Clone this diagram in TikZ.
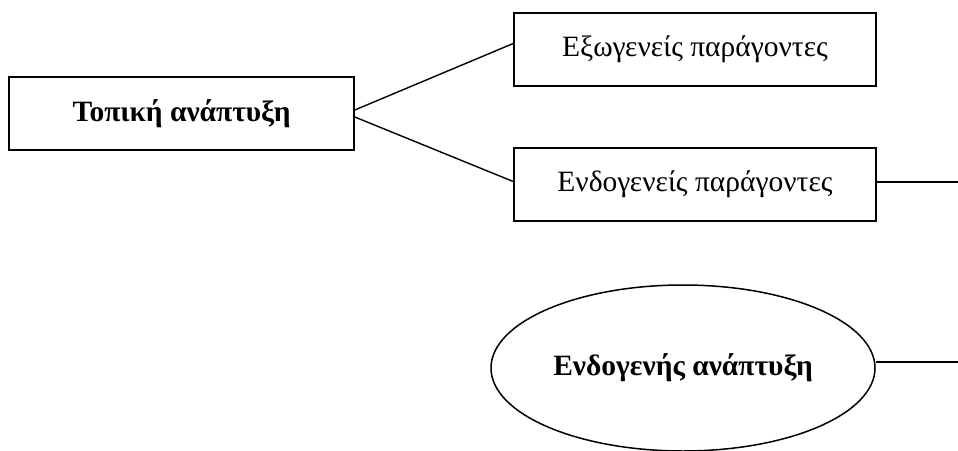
\documentclass[tikz,border=0pt]{standalone}
\usepackage{fontspec}
\setmainfont{Liberation Serif}
\usetikzlibrary{shapes.geometric,calc}
\begin{document}
\begin{tikzpicture}[x=1pt,y=-1pt,
  conn/.style={line width=1.4pt},
  txt/.style={font=\fontsize{29.5}{34}\selectfont},
  boxnode/.style={draw,line width=1.6pt,rectangle,minimum width=345pt,minimum height=73pt,inner sep=0pt,txt},
  ellnode/.style={draw,line width=1.5pt,ellipse,minimum width=384pt,minimum height=166pt,inner sep=0pt,txt}]
\useasboundingbox (0,0) rectangle (958,450);
\node[boxnode] (b1) at (181.5,113.5) {\bfseries Τοπική ανάπτυξη};
\node[boxnode,minimum width=362pt] (b2) at (695,49.5) {Εξωγενείς παράγοντες};
\node[boxnode,minimum width=362pt] (b3) at (695,184.5) {Ενδογενείς παράγοντες};
\node[ellnode] (e) at (683,368) {\raisebox{6pt}{\bfseries Ενδογενής ανάπτυξη}};
\coordinate (r1) at (958,182);
\coordinate (r2) at (958,362);
\draw[conn] ($(b1.east)+(0,-3.5)$) -- ($(b2.west)+(0,-6)$);
\draw[conn] ($(b1.east)+(0,3.5)$) -- ($(b3.west)+(0,-3)$);
\draw[conn] ($(b3.east)+(0,-2.5)$) -- (r1);
\draw[conn] ($(e.east)+(0,-6)$) -- (r2);
\end{tikzpicture}
\end{document}
